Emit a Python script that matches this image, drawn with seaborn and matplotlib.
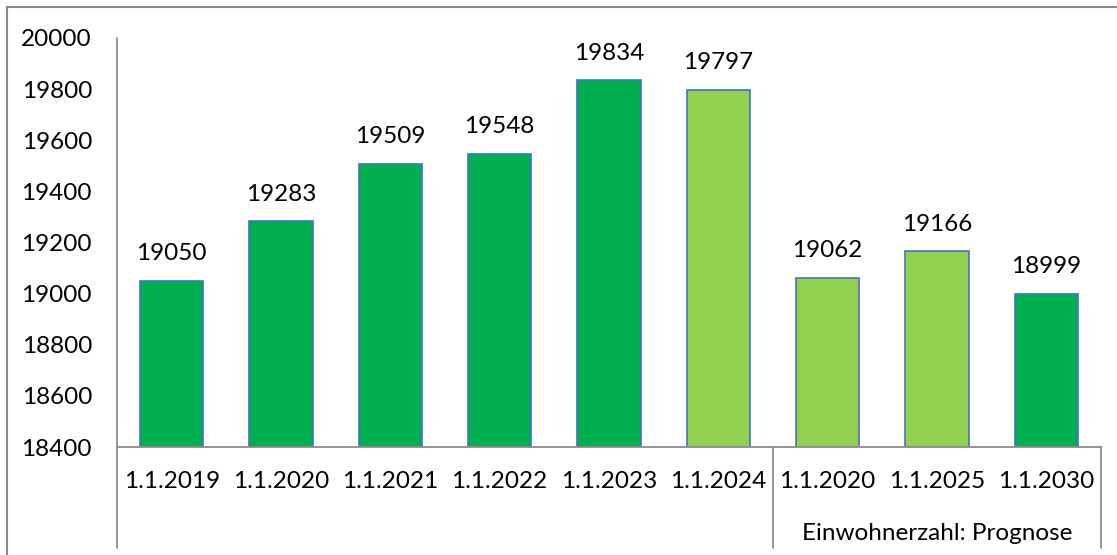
import matplotlib
matplotlib.use('Agg')
import matplotlib.pyplot as plt
import numpy as np
import pandas as pd
import seaborn as sns
from matplotlib.lines import Line2D

sns.set_theme(style='white')
plt.rcParams['font.family'] = ['Lato', 'DejaVu Sans']

# =========================
# DATA
# =========================
dates = ['1.1.2019', '1.1.2020', '1.1.2021', '1.1.2022', '1.1.2023',
         '1.1.2024', '1.1.2020', '1.1.2025', '1.1.2030']
values = [19050, 19283, 19509, 19548, 19834, 19797, 19062, 19166, 18999]
bar_colors = ['#00B050', '#00B050', '#00B050', '#00B050', '#00B050',
              '#92D050', '#92D050', '#92D050', '#00B050']
group_label = 'Einwohnerzahl: Prognose'
yticks = [18400, 18600, 18800, 19000, 19200, 19400, 19600, 19800, 20000]

FS = 17.5

df = pd.DataFrame({'pos': [str(i) for i in range(len(values))], 'value': values})

fig = plt.figure(figsize=(11.17, 5.55), dpi=100)
ax = fig.add_axes([117 / 1117, 1 - 447 / 555, (1101 - 117) / 1117, (447 - 38) / 555])

sns.barplot(data=df, x='pos', y='value', hue='pos', palette=bar_colors,
            legend=False, width=0.58, edgecolor='#4472C4', linewidth=1.2,
            saturation=1, ax=ax)

for c in ax.containers:
    ax.bar_label(c, padding=12, fontsize=FS, color='black')

ax.set_ylim(18400, 20000)
ax.set_xlim(-0.5, len(values) - 0.5)
ax.set_yticks(yticks)
ax.set_yticklabels([str(t) for t in yticks], fontsize=FS, color='black')
ax.set_xticks(range(len(values)))
ax.set_xticklabels(dates, fontsize=FS, color='black')
ax.tick_params(axis='y', length=0, pad=18)
ax.tick_params(axis='x', length=0, pad=17)
ax.set_xlabel('')
ax.set_ylabel('')

for s in ['top', 'right', 'left']:
    ax.spines[s].set_visible(False)
ax.spines['bottom'].set_color('#8C8C8C')
ax.spines['bottom'].set_linewidth(1.3)

# multi-level category axis
low = -101 / 409
xt = ax.get_xaxis_transform()
ax.plot([-0.5, -0.5], [low, 1], color='#8C8C8C', lw=1.3, transform=xt, clip_on=False)
ax.plot([5.5, 5.5], [0, low], color='#8C8C8C', lw=1.3, transform=xt, clip_on=False)
ax.plot([8.5, 8.5], [0, low], color='#8C8C8C', lw=1.3, transform=xt, clip_on=False)
ax.text(7, -86 / 409, group_label, transform=xt, ha='center', va='center',
        fontsize=FS, color='black')

# figure frame (top and left only)
fig.add_artist(Line2D([7 / 1117, 1], [1 - 7 / 555, 1 - 7 / 555], color='#898989', lw=1.5))
fig.add_artist(Line2D([7 / 1117, 7 / 1117], [0, 1 - 7 / 555], color='#898989', lw=1.5))

plt.savefig('out.png', dpi=100)
plt.close()
